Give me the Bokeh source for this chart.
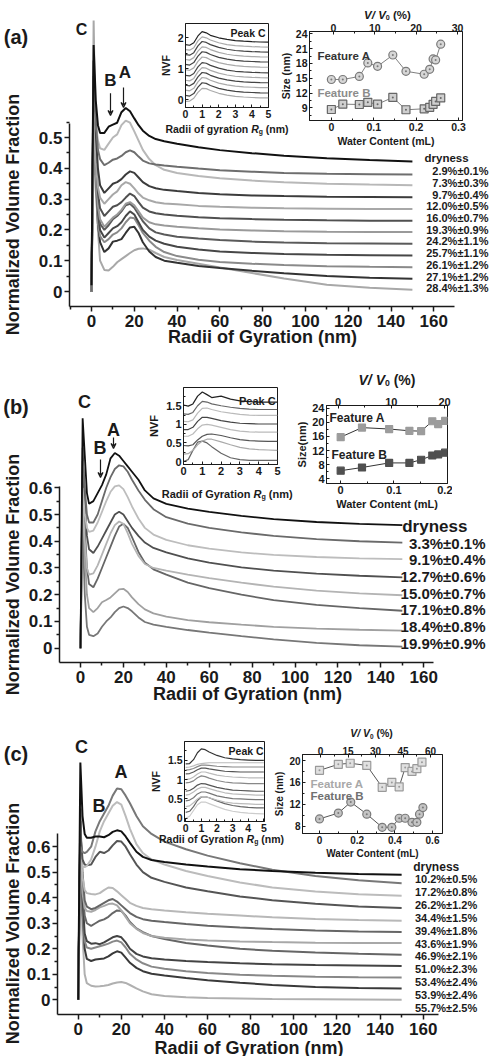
import numpy as np
from bokeh.plotting import figure
from bokeh.models import (ColumnDataSource, FixedTicker, LinearAxis, Range1d,
                          Label, Arrow, VeeHead, GridBox)
from bokeh.core.properties import value
from bokeh.embed import file_html
from bokeh.resources import INLINE

# ============================ DATA ============================
radius_nm = [0, 1, 2, 3, 4, 6, 8, 10, 12, 14, 16, 18, 20, 22, 24, 27, 30, 34, 40, 50, 60, 75, 90, 110, 130, 150]
rg_inset_nm = [0, 0.25, 0.5, 0.75, 1.0, 1.25, 1.5, 2.0, 2.5, 3.0, 3.5, 4.0, 4.5, 5.0]

main_x_ticks = [0, 20, 40, 60, 80, 100, 120, 140, 160]
main_x_minor = [-10, 10, 30, 50, 70, 90, 110, 130, 150]
a_y_ticks = [0.0, 0.1, 0.2, 0.3, 0.4, 0.5]
bc_y_ticks = [0.0, 0.1, 0.2, 0.3, 0.4, 0.5, 0.6]
main_y_minor = [0.05, 0.15, 0.25, 0.35, 0.45, 0.55]

# ---- panel (a) ----
a_nvf = [
    [0.02, 0.80, 0.62, 0.54, 0.515, 0.515, 0.535, 0.542, 0.548, 0.582, 0.596, 0.585, 0.562, 0.54, 0.522, 0.505, 0.495, 0.488, 0.480, 0.468, 0.459, 0.449, 0.441, 0.433, 0.427, 0.422],
    [0.0, 0.70, 0.55, 0.46, 0.43, 0.41, 0.418, 0.428, 0.432, 0.44, 0.452, 0.458, 0.452, 0.438, 0.425, 0.416, 0.412, 0.409, 0.405, 0.399, 0.394, 0.389, 0.385, 0.382, 0.381, 0.38],
    [0.0, 0.62, 0.55, 0.49, 0.465, 0.46, 0.48, 0.5, 0.51, 0.54, 0.555, 0.548, 0.52, 0.49, 0.46, 0.43, 0.41, 0.395, 0.385, 0.375, 0.368, 0.36, 0.355, 0.35, 0.347, 0.345],
    [0.0, 0.75, 0.52, 0.40, 0.345, 0.32, 0.335, 0.35, 0.355, 0.365, 0.38, 0.39, 0.385, 0.37, 0.355, 0.342, 0.335, 0.33, 0.326, 0.32, 0.316, 0.312, 0.31, 0.308, 0.307, 0.306],
    [0.0, 0.58, 0.42, 0.34, 0.305, 0.285, 0.3, 0.315, 0.325, 0.345, 0.355, 0.35, 0.335, 0.318, 0.305, 0.296, 0.29, 0.286, 0.283, 0.278, 0.275, 0.272, 0.27, 0.269, 0.268, 0.268],
    [0.0, 0.66, 0.45, 0.32, 0.27, 0.245, 0.26, 0.275, 0.28, 0.29, 0.305, 0.318, 0.31, 0.29, 0.272, 0.26, 0.254, 0.25, 0.246, 0.241, 0.238, 0.235, 0.233, 0.231, 0.23, 0.23],
    [0.0, 0.55, 0.38, 0.28, 0.235, 0.21, 0.225, 0.24, 0.25, 0.265, 0.285, 0.29, 0.28, 0.26, 0.24, 0.225, 0.218, 0.214, 0.21, 0.205, 0.201, 0.198, 0.196, 0.194, 0.193, 0.193],
    [0.0, 0.6, 0.4, 0.27, 0.22, 0.2, 0.215, 0.235, 0.245, 0.26, 0.28, 0.285, 0.272, 0.25, 0.228, 0.205, 0.192, 0.185, 0.178, 0.172, 0.167, 0.162, 0.159, 0.157, 0.156, 0.155],
    [0.0, 0.64, 0.42, 0.26, 0.2, 0.175, 0.19, 0.205, 0.212, 0.225, 0.245, 0.26, 0.25, 0.225, 0.2, 0.178, 0.165, 0.155, 0.145, 0.136, 0.13, 0.125, 0.122, 0.119, 0.118, 0.117],
    [0.0, 0.5, 0.33, 0.22, 0.18, 0.16, 0.17, 0.185, 0.192, 0.205, 0.225, 0.24, 0.238, 0.215, 0.19, 0.165, 0.145, 0.128, 0.115, 0.103, 0.096, 0.09, 0.086, 0.082, 0.08, 0.079],
    [0.0, 0.7, 0.4, 0.22, 0.16, 0.128, 0.14, 0.162, 0.165, 0.17, 0.19, 0.208, 0.21, 0.19, 0.16, 0.13, 0.112, 0.1, 0.093, 0.083, 0.076, 0.067, 0.059, 0.05, 0.045, 0.041],
    [0.0, 0.88, 0.45, 0.2, 0.1, 0.07, 0.068, 0.08, 0.095, 0.105, 0.115, 0.125, 0.134, 0.139, 0.14, 0.136, 0.125, 0.112, 0.102, 0.09, 0.078, 0.06, 0.042, 0.022, 0.012, 0.006],
]
a_dryness = ["2.9%±0.1%", "7.3%±0.3%", "9.7%±0.4%", "12.0%±0.5%", "16.0%±0.7%", "19.3%±0.9%",
             "24.2%±1.1%", "25.7%±1.1%", "26.1%±1.2%", "27.1%±1.2%", "28.4%±1.3%"]
a_inset_nvf = [
    [1.78, 1.76, 1.84, 2.06, 2.2, 2.16, 2.08, 2.0, 1.95, 1.91, 1.89, 1.875, 1.865, 1.86],
    [1.62, 1.6, 1.68, 1.9, 2.03, 2.0, 1.93, 1.84, 1.78, 1.75, 1.73, 1.715, 1.705, 1.70],
    [1.46, 1.44, 1.52, 1.74, 1.88, 1.85, 1.78, 1.69, 1.63, 1.59, 1.57, 1.555, 1.545, 1.54],
    [1.3, 1.28, 1.36, 1.57, 1.71, 1.69, 1.62, 1.53, 1.47, 1.43, 1.41, 1.395, 1.385, 1.38],
    [1.14, 1.12, 1.2, 1.41, 1.55, 1.53, 1.46, 1.37, 1.31, 1.27, 1.25, 1.235, 1.225, 1.22],
    [0.97, 0.95, 1.03, 1.24, 1.38, 1.36, 1.29, 1.2, 1.14, 1.1, 1.08, 1.065, 1.055, 1.05],
    [0.79, 0.77, 0.85, 1.06, 1.2, 1.18, 1.11, 1.02, 0.96, 0.92, 0.9, 0.885, 0.875, 0.87],
    [0.63, 0.61, 0.69, 0.9, 1.04, 1.02, 0.95, 0.86, 0.8, 0.76, 0.74, 0.725, 0.715, 0.71],
    [0.47, 0.45, 0.53, 0.74, 0.88, 0.86, 0.79, 0.7, 0.64, 0.6, 0.58, 0.565, 0.555, 0.55],
    [0.31, 0.29, 0.37, 0.58, 0.72, 0.7, 0.63, 0.54, 0.48, 0.44, 0.42, 0.405, 0.395, 0.39],
    [0.14, 0.12, 0.2, 0.41, 0.55, 0.53, 0.46, 0.37, 0.31, 0.27, 0.25, 0.235, 0.225, 0.22],
    [-0.05, -0.04, 0.05, 0.24, 0.37, 0.36, 0.3, 0.21, 0.15, 0.11, 0.09, 0.075, 0.065, 0.06],
]
a_water_mL = [0.0, 0.027, 0.066, 0.086, 0.109, 0.145, 0.176, 0.219, 0.232, 0.240, 0.246, 0.258]
a_size_A = [14.74, 14.74, 15.35, 18.1, 17.4, 19.7, 16.4, 15.8, 16.8, 18.9, 18.7, 21.9]
a_size_B = [8.66, 9.74, 9.67, 10.1, 9.74, 11.1, 8.6, 8.8, 9.1, 9.7, 10.3, 11.0]

# ---- panel (b) ----
b_nvf = [
    [0.0, 0.86, 0.72, 0.58, 0.54, 0.55, 0.58, 0.61, 0.65, 0.71, 0.73, 0.72, 0.70, 0.68, 0.66, 0.63, 0.59, 0.56, 0.54, 0.522, 0.51, 0.495, 0.483, 0.472, 0.465, 0.46],
    [0.0, 0.7, 0.6, 0.5, 0.47, 0.47, 0.5, 0.55, 0.6, 0.64, 0.67, 0.684, 0.68, 0.66, 0.63, 0.59, 0.555, 0.52, 0.49, 0.466, 0.45, 0.433, 0.42, 0.408, 0.4, 0.395],
    [0.0, 0.6, 0.5, 0.45, 0.435, 0.44, 0.47, 0.51, 0.55, 0.585, 0.605, 0.609, 0.595, 0.565, 0.53, 0.485, 0.45, 0.425, 0.405, 0.385, 0.372, 0.358, 0.349, 0.341, 0.336, 0.333],
    [0.0, 0.75, 0.55, 0.42, 0.37, 0.356, 0.38, 0.41, 0.44, 0.47, 0.5, 0.51, 0.5, 0.475, 0.45, 0.42, 0.395, 0.375, 0.358, 0.336, 0.32, 0.302, 0.29, 0.279, 0.271, 0.265],
    [0.0, 0.55, 0.4, 0.3, 0.275, 0.28, 0.31, 0.35, 0.39, 0.43, 0.46, 0.474, 0.465, 0.43, 0.39, 0.345, 0.315, 0.3, 0.29, 0.275, 0.262, 0.245, 0.23, 0.215, 0.205, 0.198],
    [0.0, 0.65, 0.45, 0.3, 0.24, 0.228, 0.26, 0.3, 0.34, 0.38, 0.42, 0.455, 0.465, 0.45, 0.415, 0.36, 0.32, 0.295, 0.275, 0.245, 0.225, 0.2, 0.18, 0.162, 0.15, 0.14],
    [0.0, 0.58, 0.35, 0.2, 0.15, 0.135, 0.15, 0.172, 0.18, 0.19, 0.205, 0.22, 0.222, 0.21, 0.19, 0.165, 0.145, 0.13, 0.118, 0.105, 0.097, 0.088, 0.08, 0.073, 0.069, 0.066],
    [0.0, 0.45, 0.2, 0.08, 0.05, 0.045, 0.055, 0.08, 0.1, 0.115, 0.135, 0.15, 0.156, 0.15, 0.138, 0.115, 0.098, 0.088, 0.08, 0.068, 0.058, 0.045, 0.033, 0.02, 0.011, 0.006],
]
b_dryness = ["3.3%±0.1%", "9.1%±0.4%", "12.7%±0.6%", "15.0%±0.7%", "17.1%±0.8%", "18.4%±0.8%", "19.9%±0.9%"]
b_inset_nvf = [
    [1.52, 1.49, 1.55, 1.76, 1.87, 1.8, 1.72, 1.76, 1.68, 1.63, 1.61, 1.6, 1.6, 1.6],
    [1.28, 1.27, 1.32, 1.5, 1.62, 1.6, 1.55, 1.5, 1.46, 1.43, 1.41, 1.4, 1.4, 1.4],
    [1.08, 1.07, 1.12, 1.3, 1.43, 1.44, 1.4, 1.34, 1.3, 1.27, 1.25, 1.24, 1.24, 1.24],
    [0.86, 0.86, 0.92, 1.08, 1.19, 1.19, 1.16, 1.1, 1.06, 1.03, 1.02, 1.01, 1.01, 1.01],
    [0.68, 0.68, 0.74, 0.88, 0.98, 1.0, 0.98, 0.92, 0.86, 0.82, 0.8, 0.79, 0.79, 0.79],
    [0.43, 0.42, 0.45, 0.58, 0.68, 0.73, 0.74, 0.7, 0.64, 0.59, 0.56, 0.55, 0.54, 0.54],
    [0.2, 0.21, 0.3, 0.45, 0.55, 0.6, 0.6, 0.53, 0.45, 0.38, 0.34, 0.32, 0.31, 0.3],
    [0.0, 0.05, 0.3, 0.52, 0.55, 0.5, 0.4, 0.22, 0.1, 0.05, 0.03, 0.03, 0.03, 0.03],
]
b_water_mL = [0.0, 0.04, 0.091, 0.129, 0.151, 0.172, 0.183, 0.196]
b_size_A = [15.8, 18.5, 18.1, 17.6, 17.5, 20.3, 19.5, 20.4]
b_size_B = [6.3, 7.2, 8.5, 8.5, 9.4, 10.6, 10.9, 11.4]

# ---- panel (c) ----
c_nvf = [
    [0.0, 0.93, 0.72, 0.65, 0.635, 0.635, 0.64, 0.64, 0.637, 0.645, 0.658, 0.664, 0.66, 0.64, 0.615, 0.58, 0.56, 0.548, 0.54, 0.53, 0.522, 0.512, 0.505, 0.498, 0.493, 0.49],
    [0.0, 0.6, 0.58, 0.575, 0.58, 0.6, 0.66, 0.7, 0.73, 0.76, 0.8, 0.828, 0.825, 0.8, 0.77, 0.72, 0.68, 0.65, 0.62, 0.59, 0.565, 0.535, 0.51, 0.485, 0.468, 0.457],
    [0.0, 0.55, 0.52, 0.52, 0.525, 0.55, 0.6, 0.66, 0.7, 0.73, 0.76, 0.775, 0.765, 0.72, 0.67, 0.61, 0.575, 0.55, 0.53, 0.505, 0.485, 0.46, 0.44, 0.424, 0.414, 0.408],
    [0.0, 0.65, 0.55, 0.53, 0.527, 0.53, 0.56, 0.58, 0.575, 0.585, 0.605, 0.622, 0.62, 0.6, 0.57, 0.53, 0.5, 0.478, 0.462, 0.44, 0.425, 0.405, 0.39, 0.376, 0.366, 0.36],
    [0.0, 0.6, 0.48, 0.43, 0.418, 0.415, 0.413, 0.418, 0.43, 0.44, 0.438, 0.425, 0.41, 0.395, 0.38, 0.368, 0.36, 0.355, 0.35, 0.343, 0.337, 0.33, 0.323, 0.317, 0.313, 0.31],
    [0.0, 0.7, 0.5, 0.39, 0.365, 0.355, 0.36, 0.37, 0.38, 0.39, 0.395, 0.385, 0.37, 0.355, 0.34, 0.325, 0.316, 0.31, 0.305, 0.297, 0.29, 0.283, 0.277, 0.272, 0.268, 0.266],
    [0.0, 0.55, 0.42, 0.36, 0.348, 0.345, 0.352, 0.362, 0.368, 0.375, 0.377, 0.37, 0.35, 0.325, 0.3, 0.278, 0.262, 0.25, 0.243, 0.236, 0.232, 0.228, 0.226, 0.224, 0.223, 0.223],
    [0.0, 0.65, 0.45, 0.33, 0.3, 0.29, 0.3, 0.31, 0.315, 0.325, 0.34, 0.35, 0.348, 0.33, 0.305, 0.28, 0.265, 0.25, 0.238, 0.223, 0.213, 0.2, 0.192, 0.185, 0.18, 0.177],
    [0.0, 0.7, 0.4, 0.26, 0.23, 0.22, 0.222, 0.218, 0.225, 0.235, 0.245, 0.25, 0.245, 0.225, 0.2, 0.18, 0.17, 0.163, 0.158, 0.152, 0.148, 0.143, 0.139, 0.136, 0.134, 0.132],
    [0.0, 0.6, 0.35, 0.23, 0.205, 0.2, 0.205, 0.21, 0.215, 0.22, 0.228, 0.232, 0.225, 0.205, 0.18, 0.158, 0.143, 0.13, 0.122, 0.112, 0.105, 0.098, 0.094, 0.09, 0.088, 0.087],
    [0.0, 0.75, 0.35, 0.2, 0.16, 0.152, 0.158, 0.16, 0.162, 0.17, 0.182, 0.19, 0.185, 0.165, 0.145, 0.125, 0.112, 0.102, 0.095, 0.085, 0.077, 0.067, 0.058, 0.05, 0.046, 0.044],
    [0.0, 0.55, 0.25, 0.1, 0.065, 0.055, 0.052, 0.053, 0.055, 0.058, 0.064, 0.068, 0.07, 0.066, 0.058, 0.045, 0.033, 0.022, 0.015, 0.01, 0.007, 0.005, 0.003, 0.002, 0.001, 0.0],
]
c_dryness = ["10.2%±0.5%", "17.2%±0.8%", "26.2%±1.2%", "34.4%±1.5%", "39.4%±1.8%", "43.6%±1.9%",
             "46.9%±2.1%", "51.0%±2.3%", "53.4%±2.4%", "53.9%±2.4%", "55.7%±2.5%"]
c_inset_nvf = [
    [1.41, 1.42, 1.52, 1.7, 1.8, 1.78, 1.72, 1.63, 1.57, 1.54, 1.52, 1.51, 1.5, 1.5],
    [1.32, 1.33, 1.36, 1.4, 1.42, 1.43, 1.44, 1.44, 1.44, 1.44, 1.44, 1.44, 1.44, 1.44],
    [1.25, 1.26, 1.29, 1.34, 1.38, 1.38, 1.37, 1.35, 1.34, 1.33, 1.33, 1.33, 1.33, 1.33],
    [1.15, 1.16, 1.2, 1.26, 1.3, 1.3, 1.28, 1.25, 1.22, 1.21, 1.2, 1.2, 1.2, 1.2],
    [1.0, 1.02, 1.07, 1.15, 1.2, 1.2, 1.17, 1.12, 1.09, 1.07, 1.06, 1.05, 1.05, 1.05],
    [0.92, 0.93, 0.97, 1.05, 1.1, 1.08, 1.04, 0.98, 0.94, 0.92, 0.91, 0.9, 0.9, 0.9],
    [0.7, 0.72, 0.78, 0.86, 0.9, 0.89, 0.86, 0.8, 0.76, 0.73, 0.72, 0.71, 0.7, 0.7],
    [0.6, 0.62, 0.68, 0.76, 0.8, 0.8, 0.77, 0.71, 0.66, 0.63, 0.62, 0.61, 0.6, 0.6],
    [0.45, 0.47, 0.53, 0.63, 0.68, 0.68, 0.65, 0.58, 0.54, 0.51, 0.5, 0.49, 0.48, 0.48],
    [0.3, 0.32, 0.4, 0.5, 0.56, 0.56, 0.53, 0.47, 0.42, 0.39, 0.38, 0.37, 0.36, 0.36],
    [0.15, 0.18, 0.3, 0.46, 0.55, 0.56, 0.53, 0.45, 0.38, 0.33, 0.3, 0.28, 0.27, 0.27],
    [0.0, 0.05, 0.2, 0.35, 0.42, 0.42, 0.38, 0.3, 0.23, 0.18, 0.15, 0.13, 0.12, 0.11],
]
c_water_A_mL = [0.0, 0.1, 0.163, 0.251, 0.333, 0.384, 0.423, 0.455, 0.491, 0.517, 0.544]
c_size_A = [18.2, 19.3, 19.5, 19.1, 15.1, 16.0, 15.2, 18.7, 18.0, 18.5, 19.7]
c_water_B_mL = [0.0, 0.1, 0.166, 0.251, 0.333, 0.384, 0.423, 0.455, 0.491, 0.517, 0.531, 0.549]
c_size_B = [9.33, 10.4, 12.4, 10.2, 7.8, 7.8, 9.45, 9.45, 8.7, 8.7, 10.2, 11.4]

# ============================ STYLE ============================
FONT = "Liberation Sans"
INK = "#1a1a1a"
a_colors = ["#111111", "#6e6e6e", "#b8b8b8", "#3c3c3c", "#a8a8a8", "#505050",
            "#9a9a9a", "#5a5a5a", "#474747", "#8a8a8a", "#333333", "#a8a8a8"]
b_colors = ["#111111", "#6a6a6a", "#bdbdbd", "#505050", "#b4b4b4", "#666666", "#a0a0a0", "#777777"]
c_colors = ["#111111", "#787878", "#bcbcbc", "#555555", "#b8b8b8", "#666666",
            "#a8a8a8", "#666666", "#444444", "#888888", "#3a3a3a", "#b0b0b0"]
a_inset_colors = ["#222222", "#aaaaaa", "#444444", "#aaaaaa", "#444444", "#aaaaaa",
                  "#444444", "#aaaaaa", "#444444", "#aaaaaa", "#444444", "#aaaaaa"]
b_inset_colors = ["#222222", "#666666", "#bbbbbb", "#444444", "#bbbbbb", "#555555", "#aaaaaa", "#666666"]
c_inset_colors = ["#333333", "#bbbbbb", "#888888", "#555555", "#bbbbbb", "#888888",
                  "#555555", "#bbbbbb", "#777777", "#bbbbbb", "#666666", "#cccccc"]

AW = {' ': 278, '(': 333, ')': 333, '%': 889, '/': 278, '.': 278, '±': 584,
      'A': 722, 'B': 722, 'C': 722, 'F': 611, 'G': 778, 'R': 722, 'V': 667, 'N': 722,
      'a': 556, 'c': 556, 'd': 611, 'e': 556, 'f': 333, 'g': 611, 'i': 278, 'k': 556,
      'l': 278, 'm': 889, 'n': 611, 'o': 611, 'r': 389, 's': 556, 't': 333, 'u': 611,
      'y': 556, 'z': 500, 'L': 611}
for _d in "0123456789":
    AW[_d] = 556


def tw(s, size):
    return sum(AW.get(ch, 600) for ch in s) * size / 1000.0


class Geo:
    """page-pixel geometry of one figure: rect, frame and a pixel->data calibration"""
    def __init__(self, rect, frame, xcal, ycal, tcal=None):
        self.rect, self.frame = rect, frame
        (p1, v1), (p2, v2) = xcal
        self.kx, self.px0, self.vx0 = (v2 - v1) / (p2 - p1), p1, v1
        (q1, w1), (q2, w2) = ycal
        self.ky, self.py0, self.vy0 = (w2 - w1) / (q2 - q1), q1, w1
        self.tcal = tcal

    def x(self, px):
        return self.vx0 + (px - self.px0) * self.kx

    def y(self, py):
        return self.vy0 + (py - self.py0) * self.ky

    def xr(self):
        return (self.x(self.frame[0]), self.x(self.frame[2]))

    def yr(self):
        return (self.y(self.frame[3]), self.y(self.frame[1]))

    def tr(self):
        (p1, v1), (p2, v2) = self.tcal
        k = (v2 - v1) / (p2 - p1)
        return (v1 + (self.frame[0] - p1) * k, v1 + (self.frame[2] - p1) * k)


def make_fig(g, axes=True):
    x0, y0, x1, y1 = g.rect
    fx0, fy0, fx1, fy1 = g.frame
    kw = {} if axes else dict(x_axis_location=None, y_axis_location=None)
    p = figure(width=x1 - x0, height=y1 - y0,
               x_range=Range1d(*g.xr()), y_range=Range1d(*g.yr()),
               output_backend="svg", toolbar_location=None,
               min_border_left=fx0 - x0, min_border_right=x1 - fx1,
               min_border_top=fy0 - y0, min_border_bottom=y1 - fy1, **kw)
    p.title.visible = False
    p.xgrid.visible = False
    p.ygrid.visible = False
    return p


def style_axis(ax, size, ticker, tin, tout, mtin, mtout, lw=1.0, standoff=2):
    ax.ticker = ticker
    ax.major_label_text_font = FONT
    ax.major_label_text_font_size = f"{size}px"
    ax.major_label_text_font_style = "bold"
    ax.major_label_text_color = INK
    ax.major_label_standoff = standoff
    ax.axis_line_color = INK
    ax.axis_line_width = lw
    ax.major_tick_line_color = INK
    ax.minor_tick_line_color = INK
    ax.major_tick_line_width = lw
    ax.minor_tick_line_width = lw
    ax.major_tick_in, ax.major_tick_out = tin, tout
    ax.minor_tick_in, ax.minor_tick_out = mtin, mtout


def lbl(p, g, px, py, text, size, style="bold", align="center", baseline="middle",
        color=INK, angle=0.0):
    p.add_layout(Label(x=g.x(px), y=g.y(py), text=text, text_font=FONT,
                       text_font_size=f"{size}px", text_font_style=style,
                       text_align=align, text_baseline=baseline, text_color=color,
                       angle=angle))


def rich(p, g, pcx, pmid, pieces):
    total = sum(tw(t, s) for t, s, st, dy in pieces)
    x = pcx - total / 2.0
    base = pmid + 0.36 * pieces[0][1]
    for t, s, st, dy in pieces:
        lead = len(t) - len(t.lstrip(" "))
        trail = len(t) - len(t.rstrip(" "))
        core = t.strip(" ")
        x += tw(" " * lead, s)
        lbl(p, g, x, base + dy, core, s, style=st, align="left", baseline="alphabetic")
        x += tw(core, s) + tw(" " * trail, s)


# ============================ MAIN PANELS ============================
def main_panel(g, curves, colors, lw, labels, dry, marks, arrows, xb, yb, yt):
    p = make_fig(g)
    p.outline_line_color = None
    p.background_fill_color = "white"
    style_axis(p.xaxis[0], 17, FixedTicker(ticks=main_x_ticks, minor_ticks=main_x_minor), 0, 5, 0, 3, 1.5, 3)
    p.xaxis[0].bounds = (g.x(xb[0]), g.x(xb[1]))
    style_axis(p.yaxis[0], 17, FixedTicker(ticks=yt, minor_ticks=main_y_minor), 0, 5, 0, 3, 1.5, 2)
    p.yaxis[0].bounds = (g.y(yb[0]), g.y(yb[1]))
    for yv, col in reversed(list(zip(curves, colors))):
        p.line(radius_nm, yv, line_color=col, line_width=lw)
    n = len(labels)
    pys = dry["py0"] + dry["step"] * np.arange(n)
    src = ColumnDataSource(dict(x=[g.x(dry["right"])] * n, y=[g.y(v) for v in pys], t=labels))
    p.text(x="x", y="y", text="t", source=src, text_font=value(FONT),
           text_font_size=value(f"{dry['size']}px"), text_font_style="bold",
           text_align="right", text_baseline="middle", text_color=INK)
    lbl(p, g, dry["hx"], dry["hy"], "dryness", dry["hsize"], align="left")
    for t, px, py, s in marks:
        lbl(p, g, px, py, t, s)
    for px, py1, py2 in arrows:
        p.add_layout(Arrow(end=VeeHead(size=5, line_color=INK, line_width=1.2, fill_color=None),
                           x_start=g.x(px), y_start=g.y(py1), x_end=g.x(px), y_end=g.y(py2),
                           line_color=INK, line_width=1.2))
    return p


# rect / frame in page pixels (distinct grid lines so that frames are not cross-aligned)
MA = Geo((0, 0, 489, 350), (69, 0, 489, 306), ((91, 0), (433.3, 160)), ((291, 0.0), (137, 0.5)))
MB = Geo((1, 350, 489, 705), (59, 350, 489, 662), ((80, 0), (423.3, 160)), ((647.7, 0.0), (514, 0.5)))
MC = Geo((2, 705, 489, 1058), (57, 705, 489, 1014), ((77.7, 0), (422.7, 160)), ((999.3, 0.0), (871.7, 0.5)))

pa = main_panel(MA, a_nvf, a_colors, 2.0, a_dryness,
                dict(py0=170.7, step=11.7, right=488, size=11, hx=424, hy=157.3, hsize=11.5),
                [("C", 81, 29, 16), ("B", 110, 79.5, 17), ("A", 124.5, 71.5, 17)],
                [(110, 92.7, 115), (123, 87, 107)],
                (69, 454), (306, 123), a_y_ticks)
pb = main_panel(MB, b_nvf, b_colors, 1.8, b_dryness,
                dict(py0=542.7, step=16.67, right=485, size=15, hx=401.7, hy=526, hsize=17),
                [("C", 84, 401.5, 18), ("A", 113, 429, 18), ("B", 99.5, 447, 18)],
                [(100, 459, 477), (113, 437, 448)],
                (59, 433), (662, 486), bc_y_ticks)
pc = main_panel(MC, c_nvf, c_colors, 2.0, c_dryness,
                dict(py0=878.3, step=12.94, right=476.7, size=11, hx=412.7, hy=866, hsize=12),
                [("C", 81, 746, 18), ("B", 98.5, 805, 18), ("A", 120.5, 771, 18)],
                [],
                (57, 438), (1014, 833), bc_y_ticks)


# ============================ NVF INSETS ============================
def nvf_inset(g, curves, colors, yt, ym, tsize, peak):
    p = make_fig(g)
    p.border_fill_alpha = 0
    p.background_fill_color = "white"
    p.outline_line_color = INK
    p.outline_line_width = 1
    xt = FixedTicker(ticks=[0, 1, 2, 3, 4, 5], minor_ticks=[0.5, 1.5, 2.5, 3.5, 4.5])
    ytk = FixedTicker(ticks=yt, minor_ticks=ym)
    style_axis(p.xaxis[0], tsize, xt, 3, 0, 2, 0)
    style_axis(p.yaxis[0], tsize, ytk, 3, 0, 2, 0)
    p.yaxis[0].axis_label = "NVF"
    p.yaxis[0].axis_label_text_font = FONT
    p.yaxis[0].axis_label_text_font_size = f"{tsize}px"
    p.yaxis[0].axis_label_text_font_style = "bold"
    p.yaxis[0].axis_label_text_color = INK
    p.yaxis[0].axis_label_standoff = 3
    for yv, col in reversed(list(zip(curves, colors))):
        p.line(rg_inset_nm, yv, line_color=col, line_width=1.2)
    lbl(p, g, peak[0], peak[1], "Peak C", tsize, align="right")
    return p


IA1 = Geo((153, 18, 273, 138), (185, 23, 268, 107), ((185, 0), (268, 5)), ((99.3, 0), (37.3, 2)))
IB1 = Geo((145, 382, 282, 500), (177, 387, 277, 464), ((177, 0), (277, 5)), ((461, 0), (386.7, 2)))
IC1 = Geo((146, 736, 269, 846), (178, 741, 264, 821), ((179.3, 0), (263.3, 5)), ((817.7, 0), (740.7, 2)))

ia1 = nvf_inset(IA1, a_inset_nvf, a_inset_colors, [0, 1, 2], [0.5, 1.5], 10.5, (265, 32.5))
ib1 = nvf_inset(IB1, b_inset_nvf, b_inset_colors, [0.0, 0.5, 1.0, 1.5, 2.0], [0.25, 0.75, 1.25, 1.75], 11,
                (275, 400))
ic1 = nvf_inset(IC1, c_inset_nvf, c_inset_colors, [0.0, 0.5, 1.0, 1.5, 2.0], [0.25, 0.75, 1.25, 1.75], 10.5,
                (263, 750))


# ============================ SIZE INSETS ============================
def size_inset(g, tsize, xt, xm, yt, ym, tt, tm, ylabel, feats, series):
    p = make_fig(g)
    p.border_fill_alpha = 0
    p.background_fill_color = "white"
    p.outline_line_color = INK
    p.outline_line_width = 1
    p.extra_x_ranges = {"v": Range1d(*g.tr())}
    xtk = FixedTicker(ticks=xt, minor_ticks=xm)
    ytk = FixedTicker(ticks=yt, minor_ticks=ym)
    style_axis(p.xaxis[0], tsize, xtk, 3, 0, 2, 0)
    style_axis(p.yaxis[0], tsize, ytk, 3, 0, 2, 0)
    for ax, txt in ((p.xaxis[0], "Water Content (mL)"), (p.yaxis[0], ylabel)):
        ax.axis_label = txt
        ax.axis_label_text_font = FONT
        ax.axis_label_text_font_size = f"{tsize}px"
        ax.axis_label_text_font_style = "bold"
        ax.axis_label_text_color = INK
        ax.axis_label_standoff = 1
    top = LinearAxis(x_range_name="v")
    style_axis(top, tsize, FixedTicker(ticks=tt, minor_ticks=tm), 3, 0, 2, 0, standoff=0)
    p.add_layout(top, "above")
    for xs, ys, lc, marker, fc, mc, ms in series:
        p.line(xs, ys, line_color=lc, line_width=1)
        p.scatter(xs, ys, marker=marker, size=ms, fill_color=fc, line_color=mc, line_width=1.2)
    for t, px, py, col, s in feats:
        lbl(p, g, px, py, t, s, align="left", color=col)
    return p


IA2 = Geo((276, 1, 466, 150), (308, 31, 462, 120), ((330, 0), (458, 0.3)), ((107.3, 9), (33.3, 24)),
          tcal=((332, 0), (457, 30)))
IB2 = Geo((293, 366, 452, 512), (325, 405, 447, 483), ((339.3, 0), (446.7, 0.2)), ((478.3, 4), (407.7, 24)),
          tcal=((336.7, 0), (444, 20)))
IC2 = Geo((268, 722, 447, 864), (302, 754, 442, 833), ((319, 0), (432, 0.6)), ((825.7, 8), (760, 20)),
          tcal=((320, 0), (430, 60)))

ia2 = size_inset(IA2, 10.5, [0.0, 0.1, 0.2, 0.3], [0.05, 0.15, 0.25], [9, 12, 15, 18, 21, 24],
                 [7.5, 10.5, 13.5, 16.5, 19.5, 22.5], [0, 10, 20, 30], [5, 15, 25], "Size (nm)",
                 [("Feature A", 316, 55, "#333333", 11.5), ("Feature B", 316, 92, "#8c8c8c", 11.5)],
                 [(a_water_mL, a_size_A, "#808080", "circle_dot", "#d6d6d6", "#7a7a7a", 8),
                  (a_water_mL, a_size_B, "#808080", "square_dot", "#cfcfcf", "#666666", 8)])
ib2 = size_inset(IB2, 11, [0.0, 0.1, 0.2], [0.05, 0.15], [4, 8, 12, 16, 20, 24],
                 [6, 10, 14, 18, 22], [0, 10, 20], [5, 15], "Size(nm)",
                 [("Feature A", 328, 417, "#222222", 12), ("Feature B", 330, 454, "#222222", 12)],
                 [(b_water_mL, b_size_A, "#333333", "square", "#9c9c9c", "#9c9c9c", 7),
                  (b_water_mL, b_size_B, "#333333", "square", "#505050", "#505050", 7)])
ic2 = size_inset(IC2, 10, [0.0, 0.2, 0.4, 0.6], [0.1, 0.3, 0.5], [8, 12, 16, 20],
                 [10, 14, 18], [0, 15, 30, 45, 60], [7.5, 22.5, 37.5, 52.5], "Size (nm)",
                 [("Feature A", 310, 783, "#a8a8a8", 11.5), ("Feature B", 310, 795, "#707070", 11.5)],
                 [(c_water_A_mL, c_size_A, "#555555", "square_dot", "#e0e0e0", "#9a9a9a", 8),
                  (c_water_B_mL, c_size_B, "#555555", "circle_dot", "#c4c4c4", "#7a7a7a", 8)])

# ============================ TEXT OVERLAY (page-pixel coordinates) ============================
OV = Geo((3, 2, 487, 1056), (3, 2, 487, 1056), ((0, 0), (1, 1)), ((0, 0), (1, 1)))
ov = make_fig(OV, axes=False)
ov.background_fill_color = None
ov.border_fill_color = None
ov.outline_line_color = None

for t, px, py in (("(a)", 15.5, 36), ("(b)", 15.5, 406.5), ("(c)", 15.5, 753.5)):
    lbl(ov, OV, px, py, t, 20)
for px, py in ((262, 336), (247, 693), (248.5, 1047)):
    lbl(ov, OV, px, py, "Radii of Gyration (nm)", 18)
for px, py in ((12, 214), (12, 574), (12, 923)):
    lbl(ov, OV, px, py, "Normalized Volume Fraction", 18, angle=np.pi / 2)
for word, cx, mid, s in (("Radii of gyration ", 226.5, 125, 10.5),
                         ("Radii of Gyration ", 226.7, 490, 11),
                         ("Radii of Gyration ", 221, 835, 10.5)):
    rich(ov, OV, cx, mid, [(word, s, "bold", 0), ("R", s, "bold italic", 0),
                           ("g", s * 0.65, "bold", 2.5), (" (nm)", s, "bold", 0)])
for cx, mid, s in ((387, 10, 11.5), (386.5, 374, 14), (371, 729, 10.5)):
    rich(ov, OV, cx, mid, [("V/ V", s, "bold italic", 0), ("0", s * 0.62, "bold", 3), (" (%)", s, "bold", 0)])

# ============================ PAGE LAYOUT ============================
items = [(pa, MA), (pb, MB), (pc, MC), (ia1, IA1), (ia2, IA2), (ib1, IB1), (ib2, IB2), (ic1, IC1), (ic2, IC2),
         (ov, OV)]
xs = sorted({v for _, g in items for v in (g.rect[0], g.rect[2])})
ys = sorted({v for _, g in items for v in (g.rect[1], g.rect[3])})
cols = [f"{int(xs[i + 1] - xs[i])}px" for i in range(len(xs) - 1)]
rows = [f"{int(ys[i + 1] - ys[i])}px" for i in range(len(ys) - 1)]
children = []
for f, g in items:
    r0, r1 = ys.index(g.rect[1]), ys.index(g.rect[3])
    c0, c1 = xs.index(g.rect[0]), xs.index(g.rect[2])
    children.append((f, r0, c0, r1 - r0, c1 - c0))
page = GridBox(children=children, rows=rows, cols=cols, spacing=0)

open("out.html", "w").write(file_html(page, INLINE))
